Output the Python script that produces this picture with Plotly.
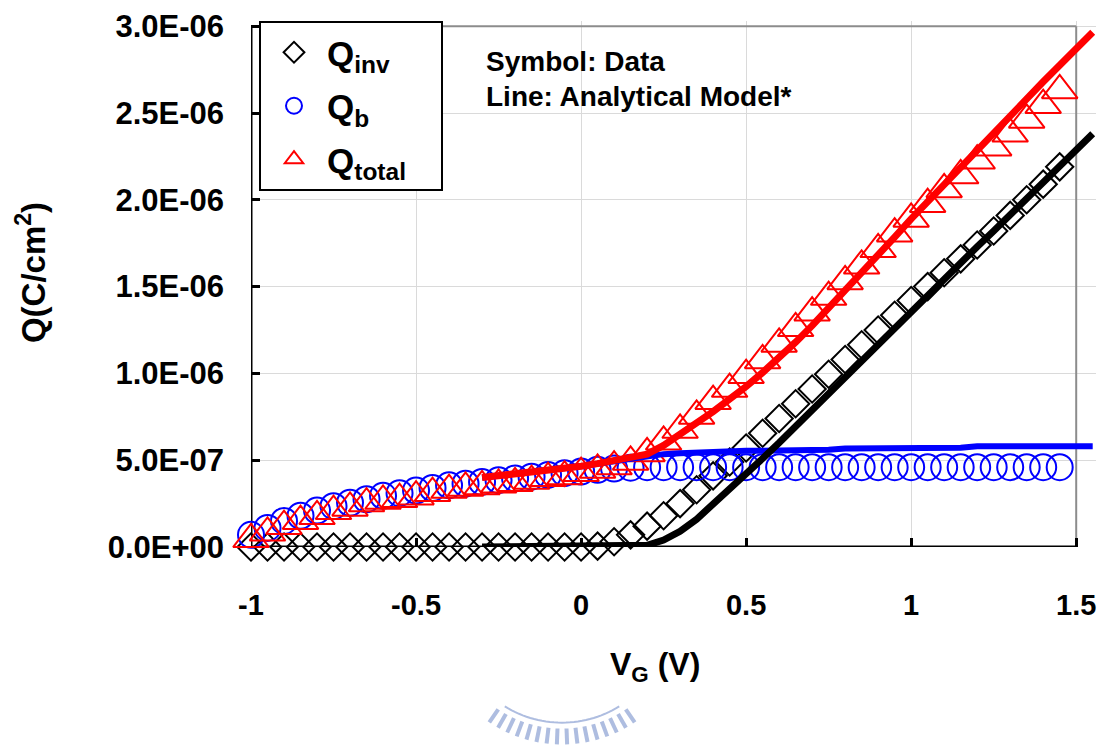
import math
import plotly.graph_objects as go

# ---------------- data (charge in units of 1E-06 C/cm^2) ----------------
v_data = [-1.0, -0.95, -0.9, -0.85, -0.8, -0.75, -0.7, -0.65, -0.6, -0.55,
          -0.5, -0.45, -0.4, -0.35, -0.3, -0.25, -0.2, -0.15, -0.1, -0.05,
          0.0, 0.05, 0.1, 0.15, 0.2, 0.25, 0.3, 0.35, 0.4, 0.45,
          0.5, 0.55, 0.6, 0.65, 0.7, 0.75, 0.8, 0.85, 0.9, 0.95,
          1.0, 1.05, 1.1, 1.15, 1.2, 1.25, 1.3, 1.35, 1.4, 1.45]

qinv_data = [0, 0, 0, 0, 0, 0, 0, 0, 0, 0,
             0, 0, 0, 0, 0, 0, 0, 0, 0, 0,
             0, 0.005, 0.03, 0.07, 0.12, 0.18, 0.25, 0.33, 0.41, 0.49,
             0.57, 0.655, 0.74, 0.825, 0.91, 0.995, 1.08, 1.165, 1.25, 1.335,
             1.42, 1.50, 1.58, 1.66, 1.74, 1.82, 1.91, 2.00, 2.09, 2.19]

qb_data = [0.07, 0.11, 0.15, 0.18, 0.21, 0.235, 0.255, 0.275, 0.295, 0.31,
           0.325, 0.34, 0.355, 0.365, 0.375, 0.385, 0.395, 0.405, 0.415, 0.425,
           0.435, 0.445, 0.452, 0.457, 0.46, 0.46, 0.46, 0.46, 0.46, 0.46,
           0.46, 0.46, 0.46, 0.46, 0.46, 0.46, 0.46, 0.46, 0.46, 0.46,
           0.46, 0.46, 0.46, 0.46, 0.46, 0.46, 0.46, 0.46, 0.46, 0.46]

qtotal_data = [0.044, 0.082, 0.12, 0.149, 0.177, 0.206, 0.225, 0.25, 0.265, 0.275,
               0.29, 0.31, 0.328, 0.34, 0.349, 0.358, 0.367, 0.38, 0.396, 0.406,
               0.425, 0.444, 0.463, 0.49, 0.539, 0.606, 0.674, 0.755, 0.84, 0.91,
               0.99, 1.075, 1.17, 1.26, 1.35, 1.44, 1.53, 1.62, 1.715, 1.805,
               1.89, 1.975, 2.06, 2.14, 2.225, 2.30, 2.38, 2.46, 2.545, 2.63]

v_model = [-0.3, -0.25, -0.2, -0.15, -0.1, -0.05, 0.0, 0.05, 0.1, 0.15,
           0.2, 0.25, 0.3, 0.35, 0.4, 0.45, 0.5, 0.55, 0.6, 0.65,
           0.7, 0.75, 0.8, 0.85, 0.9, 0.95, 1.0, 1.05, 1.1, 1.15,
           1.2, 1.25, 1.3, 1.35, 1.4, 1.45, 1.5, 1.55]

qinv_model = [0, 0, 0, 0, 0, 0, 0, 0, 0, 0,
              0.01, 0.04, 0.09, 0.16, 0.245, 0.33, 0.415, 0.51, 0.60, 0.695,
              0.79, 0.88, 0.975, 1.07, 1.16, 1.255, 1.35, 1.45, 1.54, 1.635,
              1.73, 1.82, 1.915, 2.01, 2.10, 2.195, 2.29, 2.38]

qb_model = [0.40, 0.41, 0.42, 0.43, 0.44, 0.45, 0.465, 0.48, 0.495, 0.51,
            0.525, 0.535, 0.54, 0.545, 0.55, 0.552, 0.555, 0.555, 0.555, 0.556,
            0.557, 0.56, 0.567, 0.567, 0.567, 0.567, 0.567, 0.567, 0.567, 0.572,
            0.58, 0.58, 0.58, 0.58, 0.58, 0.58, 0.58, 0.58]

qtotal_model = [0.40, 0.41, 0.42, 0.43, 0.44, 0.45, 0.465, 0.48, 0.495, 0.51,
                0.535, 0.585, 0.645, 0.715, 0.78, 0.85, 0.925, 1.005, 1.09, 1.18,
                1.275, 1.375, 1.475, 1.575, 1.68, 1.785, 1.89, 1.99, 2.09, 2.19,
                2.29, 2.39, 2.485, 2.58, 2.68, 2.775, 2.87, 2.965]

x_tickvals = [-1, -0.5, 0, 0.5, 1, 1.5]
x_ticktext = ["-1", "-0.5", "0", "0.5", "1", "1.5"]
y_tickvals = [0, 0.5, 1.0, 1.5, 2.0, 2.5, 3.0]
y_ticktext = ["0.0E+00", "5.0E-07", "1.0E-06", "1.5E-06", "2.0E-06", "2.5E-06", "3.0E-06"]

# ---------------- layout constants ----------------
W, H = 1105, 745
ML, MR, MT, MB = 251, 9, 17, 198
PW, PH = W - ML - MR, H - MT - MB
FONT = "Liberation Sans, Arial, sans-serif"
NBSP = "\u00a0"


def px_x(px):
    return (px - ML) / PW


def px_y(py):
    return (H - MB - py) / PH


fig = go.Figure()

# data markers
fig.add_trace(go.Scatter(
    x=v_data, y=qinv_data, mode="markers", name="Q<sub>inv</sub>",
    legendgroup="a", cliponaxis=False,
    marker=dict(symbol="diamond-open", size=21, color="black",
                line=dict(width=2, color="black"))))
fig.add_trace(go.Scatter(
    x=v_data, y=qb_data, mode="markers", name="Q<sub>b</sub>",
    legendgroup="b", cliponaxis=False,
    marker=dict(symbol="circle-open", size=26, color="#0000ff",
                line=dict(width=2, color="#0000ff"))))
fig.add_trace(go.Scatter(
    x=v_data, y=qtotal_data, mode="markers", name="Q<sub>total</sub>" + NBSP * 3,
    legendgroup="c", cliponaxis=False,
    marker=dict(symbol="triangle-up-open", size=31, color="#ff0000",
                line=dict(width=2, color="#ff0000"))))

# model lines
fig.add_trace(go.Scatter(x=v_model, y=qb_model, mode="lines", showlegend=False,
                         line=dict(color="#0000ff", width=6)))
fig.add_trace(go.Scatter(x=v_model, y=qinv_model, mode="lines", showlegend=False,
                         line=dict(color="black", width=7)))
fig.add_trace(go.Scatter(x=v_model, y=qtotal_model, mode="lines", showlegend=False,
                         line=dict(color="#ff0000", width=7)))

shapes = []
x0, x1 = x_tickvals[0], x_tickvals[-1]
y0, y1 = y_tickvals[0], y_tickvals[-1]
# plot frame
shapes.append(dict(type="line", xref="x", yref="y", x0=x0, x1=x1, y0=y1, y1=y1,
                   line=dict(color="#8c8c8c", width=2), layer="between"))
shapes.append(dict(type="line", xref="x", yref="y", x0=x1, x1=x1, y0=y0, y1=y1,
                   line=dict(color="#8c8c8c", width=2), layer="between"))
shapes.append(dict(type="line", xref="x", yref="y", x0=x0, x1=x0, y0=y0, y1=y1,
                   line=dict(color="black", width=3), layer="between"))
shapes.append(dict(type="line", xref="x", yref="y", x0=x0, x1=x1, y0=y0, y1=y0,
                   line=dict(color="black", width=3), layer="between"))

# faint watermark logo at the bottom (decoration)
cx, cy = 562, 616
wm = "#aebde0"
n_strokes = 16
for i in range(n_strokes):
    a = math.radians(-34 + 68 * i / (n_strokes - 1))
    r_in, r_out = 114, 130
    xa, ya = cx + r_in * math.sin(a), cy + r_in * math.cos(a)
    xb, yb = cx + r_out * math.sin(a), cy + r_out * math.cos(a)
    shapes.append(dict(type="line", xref="paper", yref="paper",
                       x0=px_x(xa), y0=px_y(ya), x1=px_x(xb), y1=px_y(yb),
                       line=dict(color=wm, width=4)))
arc_pts = []
for i in range(31):
    a = math.radians(-32 + 64 * i / 30)
    arc_pts.append((cx + 108 * math.sin(a), cy + 108 * math.cos(a)))
path = "M " + " L ".join(f"{px_x(p[0]):.5f},{px_y(p[1]):.5f}" for p in arc_pts)
shapes.append(dict(type="path", xref="paper", yref="paper", path=path,
                   line=dict(color=wm, width=2)))

annotations = [
    dict(text="Symbol: Data", x=px_x(484), y=px_y(58), xref="paper", yref="paper",
         xanchor="left", yanchor="middle", showarrow=False,
         font=dict(family=FONT, size=28, color="black", weight="bold")),
    dict(text="Line: Analytical Model*", x=px_x(484), y=px_y(93), xref="paper", yref="paper",
         xanchor="left", yanchor="middle", showarrow=False,
         font=dict(family=FONT, size=28, color="black", weight="bold")),
    dict(text="Q(C/cm<sup>2</sup>)", x=px_x(31), y=px_y(271), xref="paper", yref="paper",
         xanchor="center", yanchor="middle", showarrow=False, textangle=-90,
         font=dict(family=FONT, size=33, color="black", weight="bold")),
    dict(text="V<sub>G</sub> (V)", x=px_x(655), y=px_y(667), xref="paper", yref="paper",
         xanchor="center", yanchor="middle", showarrow=False,
         font=dict(family=FONT, size=32, color="black", weight="bold")),
]

fig.update_layout(
    width=W, height=H,
    margin=dict(l=ML, r=MR, t=MT, b=MB, pad=0),
    paper_bgcolor="white", plot_bgcolor="white",
    font=dict(family=FONT, color="black"),
    showlegend=True,
    legend=dict(x=px_x(259), y=px_y(17), xanchor="left", yanchor="top",
                bgcolor="white", bordercolor="black", borderwidth=2,
                font=dict(family=FONT, size=35, color="black", weight="bold"),
                tracegroupgap=5, itemsizing="trace", itemwidth=56),
    shapes=shapes,
    annotations=annotations,
    xaxis=dict(range=[-1, 1.56], tickvals=x_tickvals, ticktext=x_ticktext,
               showgrid=True, gridcolor="#dadada", gridwidth=1, zeroline=False,
               showline=False, ticks="inside", ticklen=9, tickwidth=2.5, tickcolor="black",
               tickfont=dict(family=FONT, size=29, color="black", weight="bold"),
               ticklabelstandoff=38),
    yaxis=dict(range=[0, 3.03], tickvals=y_tickvals, ticktext=y_ticktext,
               showgrid=True, gridcolor="#dadada", gridwidth=1, zeroline=False,
               showline=False, ticks="inside", ticklen=9, tickwidth=2.5, tickcolor="black",
               tickfont=dict(family=FONT, size=31, color="black", weight="bold"),
               ticklabelstandoff=26),
)

fig.write_html("out.html")
